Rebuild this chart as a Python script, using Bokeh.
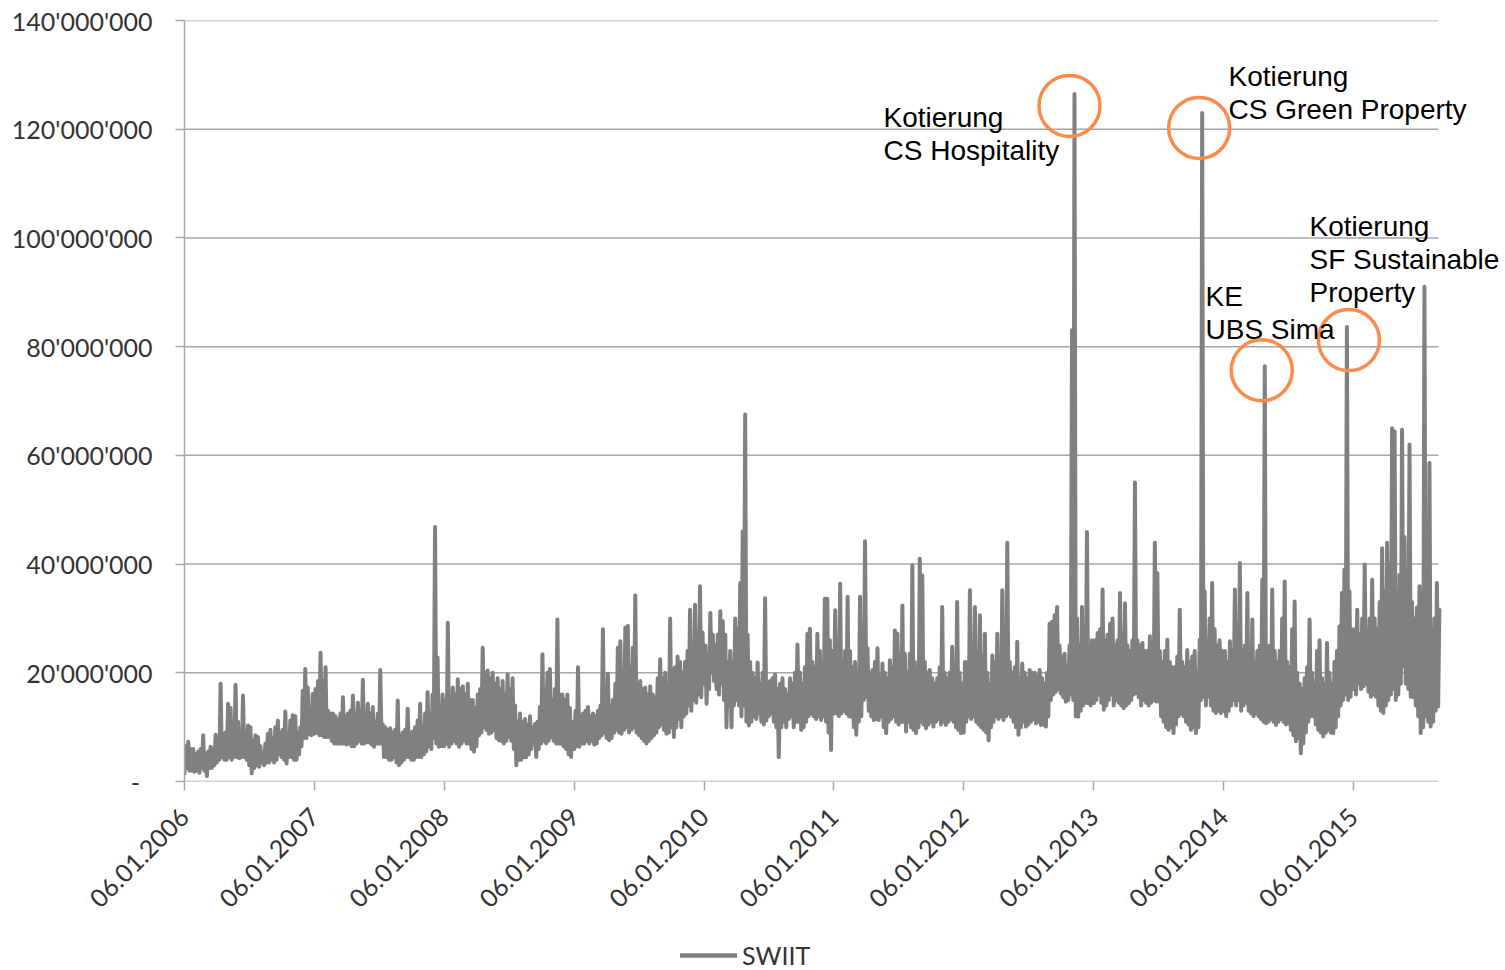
import math
from datetime import datetime, timedelta
from bokeh.plotting import figure
from bokeh.layouts import column
from bokeh.models import (Range1d, FixedTicker, DatetimeTickFormatter, Label,
                          Legend, LegendItem, ColumnDataSource)
from bokeh.embed import file_html
from bokeh.resources import INLINE

# ---------------- data: weekly low / high readings (millions) ----------------
series_name = "SWIIT"
years = [2006, 2007, 2008, 2009, 2010, 2011, 2012, 2013, 2014, 2015]

hi_2006 = [6.5, 7.3, 6.0, 6.0, 5.0, 5.5, 6.0, 8.5, 5.0, 5.5,
           6.4, 6.0, 8.6, 8.0, 18.0, 8.8, 9.0, 14.3, 13.5, 9.0,
           17.8, 11.0, 9.5, 15.8, 9.0, 10.3, 10.0, 7.5, 8.5, 8.2,
           6.5, 5.2, 7.0, 8.8, 9.5, 8.0, 10.0, 11.2, 9.0, 9.5,
           12.9, 8.5, 11.2, 12.2, 12.0, 9.0, 10.0, 16.7, 20.7, 17.3,
           12.0, 16.1]
lo_2006 = [1.5, 2.5, 2.0, 2.0, 1.8, 2.0, 1.6, 2.5, 2.0, 1.0,
           2.5, 2.5, 3.0, 3.5, 4.0, 4.5, 4.0, 4.0, 4.5, 4.0,
           4.5, 4.5, 4.3, 4.5, 4.5, 4.0, 3.0, 1.5, 2.5, 3.0,
           2.7, 3.5, 3.0, 3.5, 3.5, 4.0, 3.5, 4.0, 5.0, 4.5,
           4.0, 3.3, 4.5, 4.5, 4.0, 4.0, 5.0, 6.5, 8.0, 8.0,
           8.8, 8.5]
hi_2007 = [17.0, 18.5, 23.7, 18.5, 21.0, 13.0, 12.5, 12.5, 12.0, 11.5,
           12.5, 15.5, 12.0, 12.5, 13.0, 15.8, 12.5, 14.5, 13.0, 18.7,
           12.0, 14.3, 12.5, 13.7, 11.0, 12.5, 20.5, 10.5, 10.0, 9.5,
           9.8, 9.0, 9.5, 14.9, 8.5, 9.0, 9.5, 13.4, 9.0, 9.2,
           10.0, 11.2, 14.3, 10.0, 12.5, 16.4, 12.0, 16.0, 46.8, 22.8,
           13.0, 16.0]
lo_2007 = [8.8, 9.0, 8.5, 8.5, 8.2, 8.2, 8.2, 7.5, 7.0, 7.0,
           7.0, 7.0, 7.0, 6.8, 7.0, 6.5, 6.5, 7.0, 7.5, 7.0,
           7.0, 7.2, 7.2, 6.8, 6.4, 7.0, 7.0, 7.0, 4.5, 4.5,
           4.0, 4.0, 4.5, 3.5, 3.0, 3.5, 4.0, 4.5, 4.5, 4.0,
           4.0, 4.5, 4.5, 4.5, 5.0, 5.5, 6.5, 6.0, 8.0, 7.0,
           6.4, 6.5]
hi_2008 = [15.0, 29.2, 15.0, 17.3, 16.0, 18.8, 17.0, 17.5, 16.0, 18.0,
           15.0, 15.0, 13.5, 16.0, 17.0, 24.6, 20.0, 20.4, 19.0, 20.0,
           18.0, 19.0, 17.0, 18.5, 16.0, 19.7, 17.0, 19.0, 14.0, 11.0,
           12.5, 11.0, 11.5, 10.5, 12.0, 10.0, 10.6, 11.0, 13.7, 23.4,
           17.0, 20.0, 20.7, 15.0, 17.0, 29.8, 16.0, 16.0, 15.0, 16.0,
           13.5, 11.0]
lo_2008 = [6.5, 7.0, 6.4, 7.0, 7.5, 7.0, 6.4, 7.0, 7.6, 7.0,
           7.0, 6.0, 5.5, 6.5, 8.5, 9.0, 10.0, 9.5, 8.8, 9.0,
           9.5, 8.0, 7.6, 7.5, 7.0, 7.5, 8.2, 7.5, 6.0, 3.0,
           4.0, 4.0, 4.5, 4.5, 5.0, 6.0, 7.0, 4.5, 6.0, 7.0,
           7.5, 7.0, 7.5, 8.2, 7.5, 7.0, 7.0, 7.0, 6.5, 6.0,
           5.0, 4.5]
hi_2009 = [13.0, 21.0, 12.0, 12.5, 13.0, 13.7, 12.0, 12.5, 12.0, 13.0,
           14.0, 28.0, 16.0, 19.8, 14.0, 15.0, 18.0, 24.6, 25.8, 20.0,
           28.3, 28.6, 21.0, 24.6, 34.2, 18.0, 18.5, 17.0, 17.3, 16.0,
           17.5, 16.0, 15.5, 19.0, 22.5, 19.0, 20.0, 17.0, 30.0, 20.7,
           21.0, 23.0, 22.0, 20.0, 22.0, 24.0, 31.6, 22.0, 32.5, 26.0,
           35.9, 27.4]
lo_2009 = [6.0, 6.5, 6.4, 7.0, 7.0, 7.5, 7.0, 7.5, 6.8, 7.0,
           8.0, 8.5, 9.0, 8.0, 7.6, 8.0, 9.0, 9.5, 9.0, 8.8,
           9.5, 10.0, 9.0, 9.5, 10.0, 9.0, 8.5, 8.0, 7.5, 7.0,
           7.5, 8.0, 8.5, 9.0, 10.0, 10.5, 9.5, 8.8, 9.0, 10.0,
           8.2, 10.0, 11.5, 10.0, 12.0, 12.5, 14.0, 13.0, 15.0, 14.5,
           16.0, 15.5]
hi_2010 = [25.0, 23.4, 31.0, 27.0, 25.0, 27.0, 31.3, 29.5, 27.0, 22.0,
           24.0, 22.0, 30.0, 28.0, 36.5, 46.0, 67.5, 27.0, 22.0, 20.0,
           19.0, 21.9, 18.0, 20.0, 33.7, 18.0, 18.5, 19.0, 19.7, 17.0,
           18.0, 19.0, 17.0, 16.0, 19.0, 18.0, 20.0, 25.2, 20.0, 18.0,
           21.0, 27.2, 28.1, 22.0, 21.0, 27.2, 24.0, 22.0, 33.6, 33.6,
           26.0, 24.0]
lo_2010 = [18.0, 14.3, 17.0, 20.0, 18.5, 17.0, 16.0, 18.0, 15.0, 10.0,
           14.0, 10.0, 14.0, 15.0, 14.0, 12.0, 14.0, 11.0, 10.3, 11.0,
           12.0, 11.5, 12.5, 11.0, 10.5, 11.2, 12.0, 12.5, 11.0, 10.0,
           4.5, 10.0, 11.0, 10.0, 11.5, 12.0, 10.0, 11.0, 11.0, 9.5,
           10.0, 11.0, 12.0, 12.5, 12.0, 11.5, 12.0, 11.3, 12.0, 11.0,
           9.0, 5.8]
hi_2011 = [31.5, 22.0, 36.4, 22.0, 24.0, 34.0, 24.0, 21.0, 22.0, 20.0,
           34.0, 24.0, 44.2, 24.5, 20.0, 20.5, 22.0, 24.5, 19.0, 21.7,
           20.0, 19.0, 22.3, 21.0, 27.8, 27.2, 23.5, 32.4, 23.5, 20.0,
           23.5, 39.8, 22.0, 19.0, 41.0, 37.9, 22.0, 20.0, 20.5, 19.0,
           18.0, 19.0, 21.0, 32.1, 20.0, 19.0, 20.0, 24.8, 21.0, 33.0,
           20.0, 18.0]
lo_2011 = [12.5, 12.5, 12.0, 12.5, 13.0, 12.5, 12.0, 11.9, 10.0, 8.6,
           11.0, 12.0, 15.0, 15.6, 13.0, 12.0, 11.3, 11.5, 11.3, 12.0,
           10.0, 8.9, 11.0, 11.5, 12.0, 11.0, 10.5, 11.0, 11.0, 9.2,
           11.0, 10.0, 9.5, 8.9, 10.0, 11.0, 10.5, 9.8, 10.5, 11.0,
           10.1, 11.0, 11.5, 10.5, 11.0, 10.4, 11.0, 11.5, 11.0, 10.0,
           9.5, 8.9]
hi_2012 = [22.0, 22.0, 35.2, 23.0, 32.1, 24.0, 30.6, 23.0, 27.2, 20.0,
           18.0, 23.2, 22.0, 27.2, 21.0, 35.2, 22.0, 43.9, 22.0, 20.0,
           21.0, 25.7, 19.0, 21.7, 20.0, 19.0, 20.5, 20.0, 20.0, 19.5,
           20.5, 19.0, 18.0, 20.0, 29.0, 29.4, 30.6, 32.1, 25.0, 23.0,
           23.5, 21.0, 25.0, 83.0, 126.5, 30.0, 25.0, 32.1, 28.0, 45.9,
           24.0, 26.0]
lo_2012 = [9.0, 11.0, 12.0, 11.5, 12.0, 11.0, 10.5, 10.0, 9.5, 9.0,
           7.6, 10.0, 11.0, 12.0, 11.5, 12.0, 11.3, 12.0, 12.5, 11.9,
           11.0, 10.0, 8.6, 10.0, 11.0, 10.1, 10.5, 11.0, 11.5, 10.7,
           11.0, 10.4, 10.5, 10.1, 12.0, 15.0, 16.0, 16.5, 17.0, 16.2,
           15.5, 14.7, 15.0, 16.0, 15.0, 12.0, 11.9, 13.0, 14.0, 14.5,
           14.4, 14.0]
hi_2013 = [26.0, 27.3, 28.0, 35.3, 26.0, 27.0, 29.0, 30.0, 25.0, 26.0,
           34.7, 27.0, 32.8, 25.0, 24.0, 26.0, 55.0, 26.0, 25.0, 25.5,
           24.0, 24.0, 26.7, 25.0, 43.9, 38.3, 24.0, 22.0, 24.0, 26.1,
           22.0, 21.0, 21.0, 23.0, 31.6, 22.0, 21.0, 24.2, 22.0, 23.0,
           24.0, 20.0, 26.1, 123.0, 35.0, 26.0, 30.0, 36.5, 28.0, 25.0,
           26.0, 24.0]
lo_2013 = [14.4, 15.0, 16.0, 14.5, 13.2, 14.0, 15.0, 16.0, 14.0, 15.0,
           14.5, 14.0, 13.5, 14.0, 14.4, 15.0, 16.0, 16.3, 15.5, 14.0,
           15.0, 14.5, 14.0, 14.5, 15.0, 14.7, 14.7, 12.0, 11.0, 10.0,
           9.5, 10.0, 8.9, 10.5, 12.0, 12.5, 12.0, 11.0, 10.5, 9.5,
           10.0, 8.9, 10.0, 15.0, 15.6, 14.0, 15.6, 14.0, 13.0, 12.6,
           13.0, 12.6]
hi_2014 = [24.0, 22.0, 25.8, 24.0, 35.3, 26.0, 40.2, 24.0, 25.0, 34.7,
           25.0, 29.8, 22.0, 24.0, 25.0, 37.1, 76.4, 24.0, 25.0, 35.3,
           24.0, 22.0, 24.0, 30.0, 36.8, 22.0, 21.0, 28.0, 33.1, 20.0,
           18.0, 17.0, 19.0, 21.0, 29.8, 20.0, 18.0, 24.0, 26.0, 19.0,
           18.0, 25.5, 20.0, 18.0, 22.0, 24.0, 28.5, 34.7, 39.0, 83.6,
           35.0, 28.0]
lo_2014 = [13.0, 12.0, 13.0, 14.0, 15.0, 14.0, 15.0, 13.0, 14.0, 14.5,
           13.0, 12.5, 12.0, 12.5, 12.0, 11.5, 11.0, 10.7, 11.0, 11.5,
           11.0, 10.4, 11.0, 11.5, 11.0, 10.5, 10.7, 9.5, 8.5, 7.4,
           8.0, 5.2, 7.0, 9.0, 11.0, 12.0, 12.0, 10.5, 9.5, 9.0,
           8.3, 9.0, 9.5, 9.0, 8.9, 10.0, 12.0, 14.0, 15.0, 16.0,
           15.0, 15.6]
hi_2015 = [28.0, 31.6, 27.0, 30.0, 39.9, 28.0, 30.0, 37.1, 30.0, 28.0,
           33.0, 42.9, 35.0, 43.9, 40.0, 65.0, 64.4, 35.0, 38.0, 64.7,
           45.0, 35.0, 62.0, 33.0, 30.0, 32.0, 35.9, 25.0, 91.0, 30.0,
           58.6, 28.0, 30.0, 36.5, 31.6]
lo_2015 = [17.0, 16.0, 18.0, 17.0, 17.5, 18.0, 16.5, 15.6, 16.0, 15.6,
           14.0, 13.0, 12.6, 14.0, 15.0, 16.0, 17.0, 15.0, 16.0, 18.0,
           21.2, 18.0, 17.0, 15.6, 15.6, 14.0, 12.0, 8.9, 10.0, 12.0,
           11.0, 10.1, 11.0, 13.0, 13.8]

highs = [hi_2006, hi_2007, hi_2008, hi_2009, hi_2010,
         hi_2011, hi_2012, hi_2013, hi_2014, hi_2015]
lows = [lo_2006, lo_2007, lo_2008, lo_2009, lo_2010,
        lo_2011, lo_2012, lo_2013, lo_2014, lo_2015]

y_ticks = [0, 20, 40, 60, 80, 100, 120, 140]
y_tick_labels = ["-\u2002", "20'000'000", "40'000'000", "60'000'000",
                 "80'000'000", "100'000'000", "120'000'000", "140'000'000"]
x_tick_years = [2006, 2007, 2008, 2009, 2010, 2011, 2012, 2013, 2014, 2015]

ann_texts = [["Kotierung", "CS Hospitality"],
             ["Kotierung", "CS Green Property"],
             ["KE", "UBS Sima"],
             ["Kotierung", "SF Sustainable", "Property"]]
ann_peaks = [(2012, 44), (2013, 43), (2014, 16), (2014, 49)]  # (year, week)


def ms(d):
    return (d - datetime(1970, 1, 1)).total_seconds() * 1000.0


# ---------------- build series: low early in week, high mid-week ----------------
xs, vals = [], []
for y, lo_arr, hi_arr in zip(years, lows, highs):
    for j, (lo, hi) in enumerate(zip(lo_arr, hi_arr)):
        base = datetime(y, 1, 6) + timedelta(days=7 * j)
        xs.append(ms(base))
        vals.append(lo)
        xs.append(ms(base + timedelta(hours=84)))
        vals.append(hi)
src = ColumnDataSource(data=dict(date=xs, volume=vals))

W, H = 1505, 970
H_MAIN = 940
FL, FT, FB = 184, 20, 781       # frame left / top / bottom (px)
DR = 1438                        # px where the data span ends
x0 = datetime(2006, 1, 6)
x1 = datetime(2015, 9, 2)
span = ms(x1) - ms(x0)
xr_end = ms(x0) + (W - FL) / (DR - FL) * span


def px_x(px):
    return ms(x0) + (px - FL) / (DR - FL) * span


def dpx_x(dpx):
    return dpx / (DR - FL) * span


def px_y(py):
    return (FB - py) / (FB - FT) * 140.0


def dpx_y(dpx):
    return dpx / (FB - FT) * 140.0


GRID = "#a6a6a6"
TXT = "#333333"
ORANGE = "#fb8a4b"
LINE = "#808080"

p = figure(width=W, height=H_MAIN, x_axis_type="datetime",
           x_range=Range1d(ms(x0), xr_end), y_range=Range1d(0, 140),
           output_backend="svg", toolbar_location=None,
           min_border_left=FL, min_border_right=0,
           min_border_top=FT, min_border_bottom=H_MAIN - FB)
p.outline_line_color = None
p.background_fill_color = "white"
p.xgrid.visible = False
p.ygrid.visible = False

# horizontal gridlines over the data span only
n = len(y_ticks)
p.segment(x0=[ms(x0)] * n, y0=y_ticks, x1=[ms(x1)] * n, y1=y_ticks,
          line_color=GRID, line_width=1.5)

r = p.line("date", "volume", source=src, line_color=LINE, line_width=4,
           line_join="round", line_cap="round")

# y axis
p.yaxis.ticker = FixedTicker(ticks=y_ticks)
p.yaxis.major_label_overrides = {t: lab for t, lab in zip(y_ticks, y_tick_labels)}
p.yaxis.axis_line_color = GRID
p.yaxis.axis_line_width = 1.5
p.yaxis.major_tick_line_color = GRID
p.yaxis.major_tick_line_width = 1.5
p.yaxis.major_tick_out = 9
p.yaxis.major_tick_in = 0
p.yaxis.minor_tick_line_color = None
p.yaxis.major_label_standoff = 23
p.yaxis.major_label_text_font = "Lato"
p.yaxis.major_label_text_font_size = "25px"
p.yaxis.major_label_text_color = TXT

# x axis
xt = [ms(datetime(y, 1, 6)) for y in x_tick_years]
p.xaxis.ticker = FixedTicker(ticks=xt)
fmt = "%d.%m.%Y"
p.xaxis.formatter = DatetimeTickFormatter(days=fmt, months=fmt, years=fmt,
                                          hours=fmt, minutes=fmt, seconds=fmt,
                                          milliseconds=fmt, microseconds=fmt)
p.xaxis.major_label_orientation = math.pi / 4
p.xaxis.axis_line_color = None
p.xaxis.major_tick_line_color = GRID
p.xaxis.major_tick_line_width = 1.5
p.xaxis.major_tick_out = 9
p.xaxis.major_tick_in = 0
p.xaxis.minor_tick_line_color = None
p.xaxis.major_label_standoff = 22
p.xaxis.major_label_text_font = "Lato"
p.xaxis.major_label_text_font_size = "25px"
p.xaxis.major_label_text_color = TXT

# annotations: circles around the peaks + texts
circle_off = [(-5, 12), (-3, 15), (-3, 4), (2, 13)]
text_pos = [(883, 117), (1228, 76), (1205, 296), (1309, 226)]
LINE_GAP = 33
cx, cy = [], []
for (yr, j), (ox, oy) in zip(ann_peaks, circle_off):
    k = years.index(yr)
    d = datetime(yr, 1, 6) + timedelta(days=7 * j, hours=84)
    cx.append(ms(d) + dpx_x(ox))
    cy.append(highs[k][j] - dpx_y(oy))
p.scatter(cx, cy, marker="circle", size=61, fill_alpha=0,
          line_color=ORANGE, line_width=3.5)

for lines, (tx, ty) in zip(ann_texts, text_pos):
    for i, t in enumerate(lines):
        p.add_layout(Label(x=px_x(tx), y=px_y(ty + i * LINE_GAP), text=t,
                           text_font="Liberation Sans", text_font_size="28px",
                           text_color="black", text_align="left",
                           text_baseline="middle"))

# legend strip below the chart (frame aligned with the main chart's frame);
# it shows the same series (out of this strip's view) so the key is drawn.
H_LEG = H - H_MAIN
p2 = figure(width=W, height=H_LEG, x_range=Range1d(0, 1), y_range=Range1d(0, 1),
            output_backend="svg", toolbar_location=None, min_border=0,
            x_axis_location=None, y_axis_location=None)
p2.outline_line_color = None
p2.xgrid.visible = False
p2.ygrid.visible = False
r2 = p2.line("date", "volume", source=src, line_color=LINE, line_width=4.5,
             line_cap="round")
legend = Legend(items=[LegendItem(label=series_name, renderers=[r2])],
                location=(680 - FL, 0), orientation="horizontal",
                padding=0, margin=0, spacing=0, glyph_width=57, glyph_height=22,
                label_standoff=5, label_text_font="Lato", label_height=22,
                label_text_font_size="25px", label_text_color=TXT,
                border_line_color=None, background_fill_alpha=0)
p2.add_layout(legend)

open("out.html", "w").write(file_html(column(p, p2, spacing=0), INLINE))
